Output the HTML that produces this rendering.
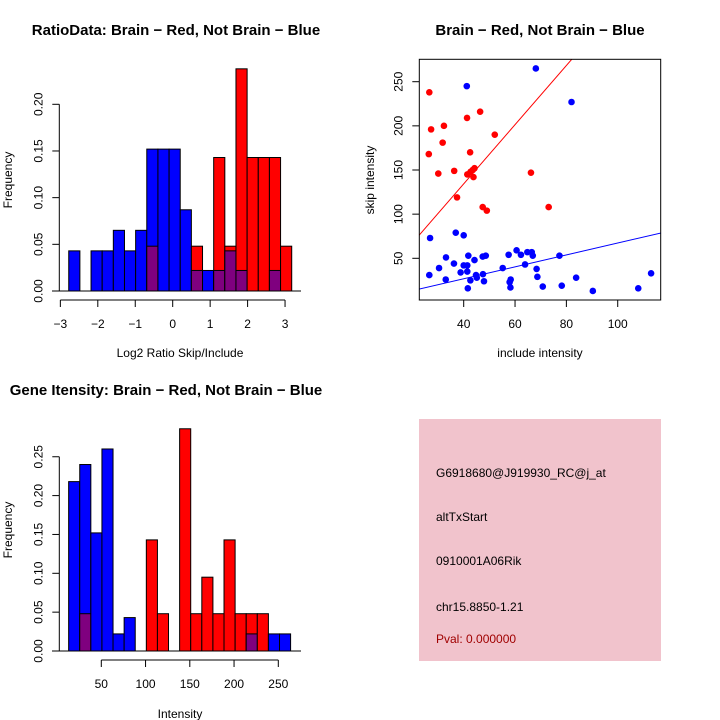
<!DOCTYPE html>
<html><head><meta charset="utf-8"><style>
body{margin:0;background:#fff;}
svg{display:block;font-family:"Liberation Sans",sans-serif;}
</style></head><body>
<svg id="c" width="720" height="720" viewBox="0 0 720 720">
<rect width="720" height="720" fill="#fff"/>
<g id="g1"></g>
<g id="g2"></g>
<g id="g3"></g>
<g>
<rect x="419" y="419" width="242" height="242" fill="#f1c3cc"/>
<text x="436" y="477" font-size="12">G6918680@J919930_RC@j_at</text>
<text x="436" y="521" font-size="12">altTxStart</text>
<text x="436" y="565" font-size="12">0910001A06Rik</text>
<text x="436" y="611" font-size="12">chr15.8850-1.21</text>
<text x="436" y="643" font-size="12" fill="#a00000">Pval: 0.000000</text>
</g>
</svg>
<script>
// ---- Ratio histogram data ----
const ratioBinStart = -2.776;
const ratioBinWidth = 0.2977;
const ratioBlue = [0.043,0,0.043,0.043,0.065,0.043,0.065,0.152,0.152,0.152,0.087,0.022,0.022,0.022,0.043,0.022,0,0,0.022,0];
const ratioRed  = [0,0,0,0,0,0,0,0.048,0,0,0,0.048,0,0.143,0.048,0.238,0.143,0.143,0.143,0.048];
const ratioXTicks = [-3,-2,-1,0,1,2,3];
const ratioYTicks = [0,0.05,0.10,0.15,0.20];
const ratioYLabels = ["0.00","0.05","0.10","0.15","0.20"];
// ---- Intensity histogram data ----
const intBinStart = 13.1;
const intBinWidth = 12.54;
const intBlue = [0.218,0.240,0.152,0.260,0.022,0.043,0,0,0,0,0,0,0,0,0,0,0.022,0,0.022,0.022];
const intRed  = [0,0.048,0,0,0,0,0,0.143,0.048,0,0.286,0.048,0.095,0.048,0.143,0.048,0.048,0.048,0,0];
const intXTicks = [50,100,150,200,250];
const intYTicks = [0,0.05,0.10,0.15,0.20,0.25];
const intYLabels = ["0.00","0.05","0.10","0.15","0.20","0.25"];
// ---- Scatter data ----
const redX = [26.6,27.3,32.3,31.8,26.4,30.1,36.3,37.4,41.3,46.4,52.1,42.5,41.4,43.5,44.2,43.8,47.4,49.0,66.2,73.1,42.7];
const redY = [238,196,200,181,168,146,149,119,209,216,190,170,145,150,152,142,108,104,147,108,148];
const blueX = [41.2,68.1,82,26.9,36.9,40,33.1,30.4,26.6,33,36.2,38.8,40,41.4,41.4,41.8,41.6,42.6,44.2,44.8,45.1,47.5,47.9,47.4,48.6,55.2,57.5,57.9,58.3,58.2,60.6,62.3,63.9,64.8,66.5,66.9,68.4,68.7,70.8,77.3,78.2,83.8,90.3,108,113];
const blueY = [245,265,227,73,79,76,51,39,31,26,44,34,42,42,35,53,16,25,48,31,28,32,24,52,53,39,54,23,26,17,59,54,43,57,57,53,38,29,18,53,19,28,13,16,33];
const redSlope = 3.35, redIntercept = 0.35;
const blueSlope = 0.674, blueIntercept = -0.1;
const scXTicks = [40,60,80,100];
const scYTicks = [50,100,150,200,250];

const NS="http://www.w3.org/2000/svg";
function el(parent,tag,attrs,txt){const e=document.createElementNS(NS,tag);for(const k in attrs)e.setAttribute(k,attrs[k]);if(txt!==undefined)e.textContent=txt;parent.appendChild(e);return e;}

function histogram(g,opt){
  const xs=v=>opt.x0px+(v-opt.x0)*opt.xk;
  const ys=v=>opt.basePx-v*opt.yk;
  const n=opt.blue.length;
  for(let i=0;i<n;i++){
    const a=opt.binStart+i*opt.binWidth,b=a+opt.binWidth;
    const bv=opt.blue[i],rv=opt.red[i];
    const x1=xs(a),x2=xs(b);
    const draw=(v,col,nm)=>{const r=el(g,'rect',{x:x1,y:ys(v),width:x2-x1,height:v*opt.yk,fill:col,stroke:'#000','stroke-width':1});
      
      };
    if(bv>0&&rv>0){
      if(bv>=rv){draw(bv,'#0000ff','bar-blue-'+i);draw(rv,'#7f007f','bar-overlap-'+i);}
      else{draw(rv,'#ff0000','bar-red-'+i);draw(bv,'#7f007f','bar-overlap-'+i);}
    }else if(bv>0)draw(bv,'#0000ff','bar-blue-'+i);
    else if(rv>0)draw(rv,'#ff0000','bar-red-'+i);
  }
  el(g,'line',{x1:opt.plotL,x2:opt.plotR,y1:opt.basePx,y2:opt.basePx,stroke:'#000'});
  const xa=el(g,'g',{});
  
  
  el(xa,'line',{x1:xs(opt.xTicks[0]),x2:xs(opt.xTicks[opt.xTicks.length-1]),y1:opt.xAxisY,y2:opt.xAxisY,stroke:'#000'});
  opt.xTicks.forEach(t=>{el(xa,'line',{x1:xs(t),x2:xs(t),y1:opt.xAxisY,y2:opt.xAxisY+7,stroke:'#000'});
    el(xa,'text',{x:xs(t),y:opt.xAxisY+28,'font-size':12,'text-anchor':'middle'},String(t).replace('-','\u2212'));});
  const ya=el(g,'g',{});
  
  
  const ax=opt.yAxisX;
  el(ya,'line',{x1:ax,x2:ax,y1:ys(opt.yTicks[0]),y2:ys(opt.yTicks[opt.yTicks.length-1]),stroke:'#000'});
  opt.yTicks.forEach((t,i)=>{const y=ys(t);el(ya,'line',{x1:ax-7,x2:ax,y1:y,y2:y,stroke:'#000'});
    el(ya,'text',{x:ax-17,y:y,'font-size':12,'text-anchor':'middle',transform:`rotate(-90 ${ax-17} ${y})`},opt.yLabels[i]);});
  const xt=el(g,'text',{x:opt.xLabelX,y:opt.xLabelY,'font-size':12,'text-anchor':'middle'},opt.xLabel);
  
  
  const yt=el(g,'text',{x:12,y:opt.yLabelY,'font-size':12,'text-anchor':'middle',transform:`rotate(-90 12 ${opt.yLabelY})`},'Frequency');
  
  
  const tt=el(g,'text',{x:opt.titleX,y:opt.titleY,'font-size':15,'font-weight':'bold','text-anchor':'middle'},opt.title);
  
  
}

histogram(document.getElementById('g1'),{binStart:ratioBinStart,binWidth:ratioBinWidth,blue:ratioBlue,red:ratioRed,
  x0:0,x0px:172.7,xk:37.45,basePx:291,yk:933.5,plotL:52,plotR:301,xTicks:ratioXTicks,yTicks:ratioYTicks,yLabels:ratioYLabels,
  xAxisY:300,yAxisX:59.3,xLabel:'Log2 Ratio Skip/Include',xLabelX:180,xLabelY:357,yLabelY:180,
  title:'RatioData: Brain \u2212 Red, Not Brain \u2212 Blue',titleX:176,titleY:35});
histogram(document.getElementById('g3'),{binStart:intBinStart,binWidth:intBinWidth,blue:intBlue,red:intRed,
  x0:50,x0px:101.3,xk:0.885,basePx:651,yk:777,plotL:52,plotR:301,xTicks:intXTicks,yTicks:intYTicks,yLabels:intYLabels,
  xAxisY:660,yAxisX:59.3,xLabel:'Intensity',xLabelX:180,xLabelY:718,yLabelY:530,
  title:'Gene Itensity: Brain \u2212 Red, Not Brain \u2212 Blue',titleX:166,titleY:395});

(function(){
  const g=document.getElementById('g2');
  const L=419.3,R=660.7,T=59.3,B=300;
  const xs=v=>463.7+(v-40)*2.567;
  const ys=v=>258.3-(v-50)*0.883;
  const cp=el(g,'clipPath',{id:'scclip'});el(cp,'rect',{x:L,y:T,width:R-L,height:B-T});
  const lines=el(g,'g',{'clip-path':'url(#scclip)'});
  const x1=20,x2=120;
  const rl=el(lines,'line',{x1:xs(x1),x2:xs(x2),y1:ys(redIntercept+redSlope*x1),y2:ys(redIntercept+redSlope*x2),stroke:'#ff0000'});
  
  
  const bl=el(lines,'line',{x1:xs(x1),x2:xs(x2),y1:ys(blueIntercept+blueSlope*x1),y2:ys(blueIntercept+blueSlope*x2),stroke:'#0000ff'});
  
  
  redX.forEach((x,i)=>{const c=el(g,'circle',{cx:xs(x),cy:ys(redY[i]),r:3.3,fill:'#ff0000'});
    
    });
  blueX.forEach((x,i)=>{const c=el(g,'circle',{cx:xs(x),cy:ys(blueY[i]),r:3.3,fill:'#0000ff'});
    
    });
  el(g,'rect',{x:L,y:T,width:R-L,height:B-T,fill:'none',stroke:'#000'});
  scXTicks.forEach(t=>{el(g,'line',{x1:xs(t),x2:xs(t),y1:B,y2:B+7,stroke:'#000'});
    el(g,'text',{x:xs(t),y:B+28,'font-size':12,'text-anchor':'middle'},String(t));});
  scYTicks.forEach(t=>{const y=ys(t);el(g,'line',{x1:L-7,x2:L,y1:y,y2:y,stroke:'#000'});
    el(g,'text',{x:L-17,y:y,'font-size':12,'text-anchor':'middle',transform:`rotate(-90 ${L-17} ${y})`},String(t));});
  const xt=el(g,'text',{x:540,y:357,'font-size':12,'text-anchor':'middle'},'include intensity');
  
  
  const yt=el(g,'text',{x:374,y:180,'font-size':12,'text-anchor':'middle',transform:'rotate(-90 374 180)'},'skip intensity');
  
  
  const tt=el(g,'text',{x:540,y:35,'font-size':15,'font-weight':'bold','text-anchor':'middle'},'Brain \u2212 Red, Not Brain \u2212 Blue');
  
  
})();
</script>
</body></html>
